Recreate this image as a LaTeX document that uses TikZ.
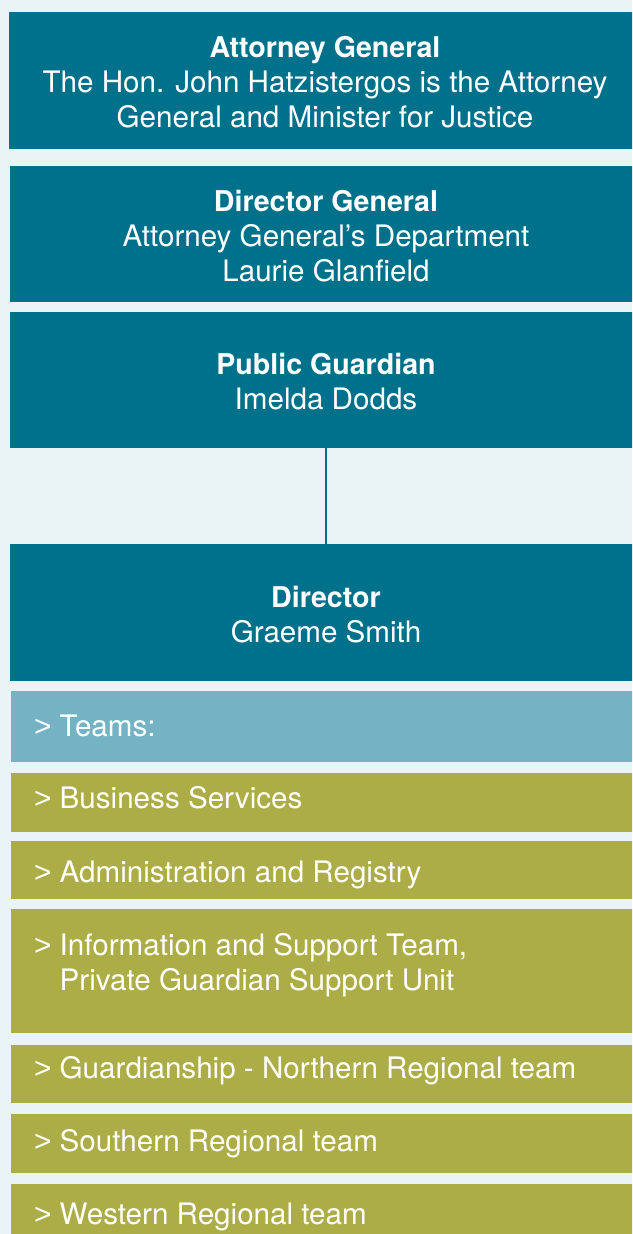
\documentclass[tikz,border=0pt]{standalone}
\usepackage{fontspec}
\setmainfont{TeX Gyre Heros}
\newfontfamily\markfont{Liberation Sans}
\definecolor{pageback}{HTML}{EAF3F6}
\definecolor{headteal}{HTML}{00718A}
\definecolor{teamblue}{HTML}{74B3C4}
\definecolor{teamolive}{HTML}{ACAD46}
% bullet mark in front of each team name
\newcommand{\teammark}{{\markfont >}\ }
% title line of an office box, with a strut that sets its height
\newcommand{\officetitle}[1]{\rule{0pt}{25pt}{\fontsize{28.6}{35}\selectfont\bfseries #1}}
\begin{document}
\begin{tikzpicture}[x=1pt,y=-1pt,
  boxbase/.style={anchor=north west, inner sep=0pt, outer sep=0pt,
    minimum width=#1, text=white},
  headbox/.style={boxbase=632pt, fill=headteal, align=center,
    font=\fontsize{29.6}{35}\selectfont},
  teambox/.style={boxbase=632pt, fill=teamolive},
  teamhead/.style={boxbase=632pt, fill=teamblue},
  teamtext/.style={anchor=base west, inner sep=0pt, text=white,
    font=\fontsize{29.6}{35}\selectfont, align=left},
  link/.style={draw=headteal, line width=1.3pt}
]
\clip (0,0) rectangle (632,1234);
\fill[pageback] (0,0) rectangle (632,1234);

% chain of office holders
\node[headbox, minimum height=137pt] (ag) at (9,12)
  {\officetitle{Attorney General}\\The Hon. John Hatzistergos is the Attorney\\General and Minister for Justice};
\node[headbox, minimum height=136pt] (dg) at (10,166)
  {\officetitle{Director General}\\Attorney General’s Department\\Laurie Glanfield};
\node[headbox, minimum height=136pt] (pg) at (10,312)
  {\officetitle{Public Guardian}\\Imelda Dodds};
\node[headbox, minimum height=137pt] (dir) at (10,544)
  {\officetitle{Director}\\Graeme Smith};
\draw[link] (pg.south) -- (dir.north);

% teams
\node[teamhead, minimum height=71pt] (teams) at (11,691) {};
\node[teambox, minimum height=59pt] (bs) at (11,773) {};
\node[teambox, minimum height=58pt] (ar) at (11,841) {};
\node[teambox, minimum height=124pt] (ist) at (11,909) {};
\node[teambox, minimum height=58pt] (gn) at (11,1045) {};
\node[teambox, minimum height=59pt] (sr) at (11,1114) {};
\node[teambox, minimum height=70pt] (wr) at (11,1184) {};

\node[teamtext] (teamsT) at (34,736) {\teammark Teams:};
\node[teamtext] (bsT) at (34,808) {\teammark Business Services};
\node[teamtext] (arT) at (34,882) {\teammark Administration and Registry};
\node[teamtext] (istT) at (34,955) {\teammark Information and Support Team,};
\node[teamtext] (istT2) at (34,990) {\phantom{\teammark}Private Guardian Support Unit};
\node[teamtext] (gnT) at (34,1078) {\teammark Guardianship - Northern Regional team};
\node[teamtext] (srT) at (34,1151) {\teammark Southern Regional team};
\node[teamtext] (wrT) at (34,1224) {\teammark Western Regional team};
\end{tikzpicture}
\end{document}
